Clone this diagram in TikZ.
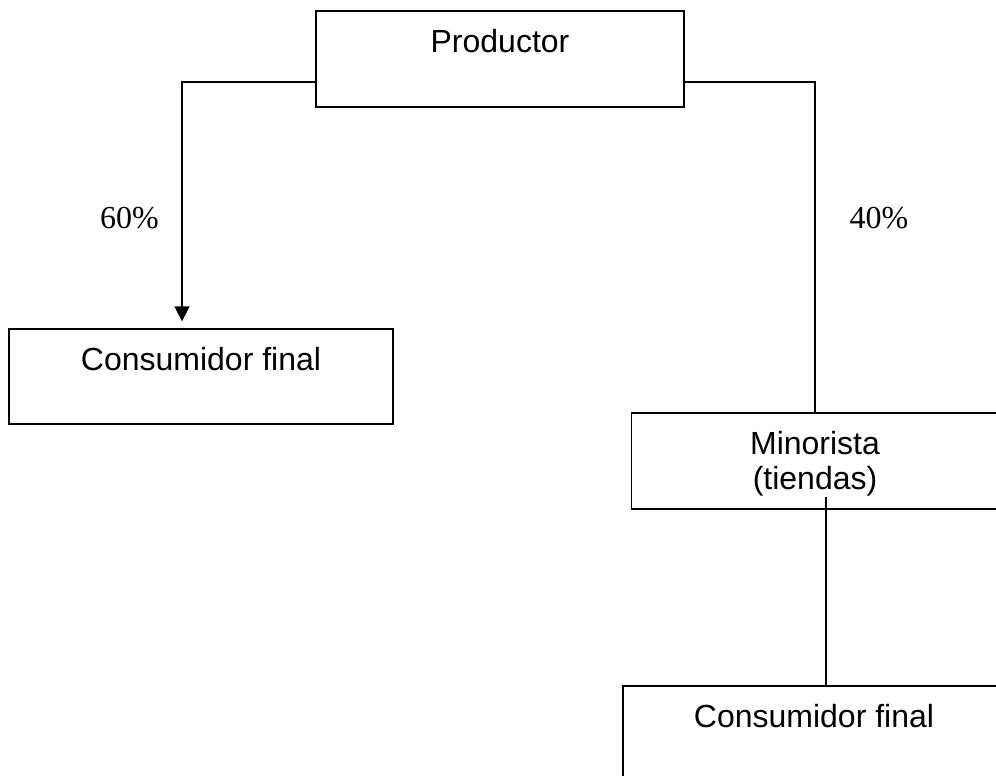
\documentclass[tikz,border=0pt]{standalone}
\usepackage{fontspec}
\setmainfont{Liberation Serif}
\newfontfamily\arialfont{Liberation Sans}
\usetikzlibrary{arrows.meta, calc}

\begin{document}
\begin{tikzpicture}[x=0.375pt, y=-0.375pt, line width=0.5pt,
  box/.style={draw, rectangle, inner sep=0pt},
  boxtext/.style={anchor=north, inner sep=0pt, yshift=-6.75pt, align=center, font=\arialfont\fontsize{12}{13.1}\selectfont},
  pct/.style={anchor=base, inner sep=0pt, font=\fontsize{12}{14}\selectfont}]
  \useasboundingbox (0,0) rectangle (996,775);
  \clip (0,0) rectangle (996,775);
  % boxes
  \node[box, minimum width=138pt, minimum height=36pt] (prod) at (500,59) {};
  \node[box, minimum width=144pt, minimum height=35.6pt] (cfa) at (201,376.5) {};
  \node[box, minimum width=137.6pt, minimum height=36pt] (mino) at (815,461) {};
  \node[box, minimum width=143.25pt, minimum height=35.6pt] (cfb) at (814,733.5) {};
  \node[boxtext] (prodtxt) at (prod.north) {Productor};
  \node[boxtext] (cfatxt) at (cfa.north) {Consumidor final};
  \node[boxtext] (minotxt) at (mino.north) {Minorista\\(tiendas)};
  \node[boxtext] (cfbtxt) at (cfb.north) {Consumidor final};
  % connectors
  \draw[-{Triangle[length=5.6pt, width=5.6pt]}] ($(prod.west)+(0,23)$) -| ($(cfa.north)+(-19,-7)$);
  \draw ($(prod.east)+(0,23)$) -| (mino.north);
  \draw ($(mino.south)+(11,-13)$) coordinate (mtail) -- (mtail |- cfb.north);
  \node[pct] (p60) at (129.5,228) {60\%};
  \node[pct] (p40) at (879,228) {40\%};
\end{tikzpicture}
\end{document}
